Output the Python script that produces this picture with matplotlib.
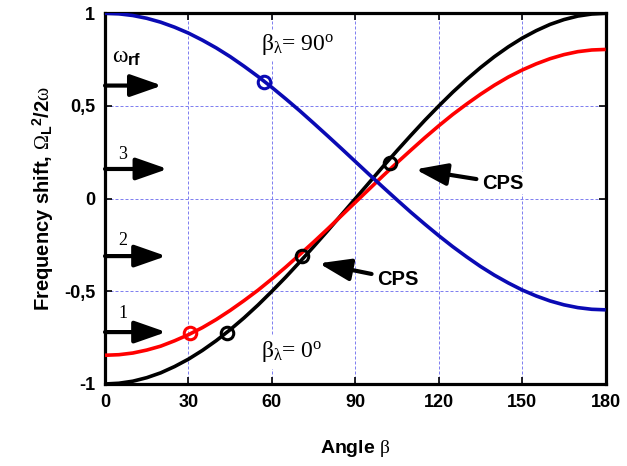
import matplotlib
matplotlib.use("Agg")
import matplotlib.pyplot as plt

# ---- data ----
beta = [0, 5, 10, 15, 20, 25, 30, 35, 40, 45, 50, 55, 60, 65, 70, 75, 80, 85, 90,
        95, 100, 105, 110, 115, 120, 125, 130, 135, 140, 145, 150, 155, 160, 165, 170, 175, 180]
black_vals = [-1.000, -0.996, -0.985, -0.966, -0.940, -0.906, -0.866, -0.819, -0.766, -0.707,
              -0.643, -0.574, -0.500, -0.423, -0.342, -0.259, -0.174, -0.087, 0.000,
              0.087, 0.174, 0.259, 0.342, 0.423, 0.500, 0.574, 0.643, 0.707, 0.766,
              0.819, 0.866, 0.906, 0.940, 0.966, 0.985, 0.996, 1.000]
red_vals = [-0.845, -0.842, -0.833, -0.817, -0.796, -0.767, -0.734, -0.696, -0.652, -0.603,
            -0.550, -0.494, -0.433, -0.369, -0.302, -0.234, -0.164, -0.092, -0.020,
            0.052, 0.124, 0.194, 0.262, 0.329, 0.393, 0.454, 0.510, 0.563, 0.612,
            0.656, 0.694, 0.727, 0.755, 0.777, 0.793, 0.802, 0.805]
blue_vals = [1.000, 0.997, 0.988, 0.973, 0.952, 0.925, 0.893, 0.855, 0.813, 0.766,
             0.714, 0.659, 0.600, 0.538, 0.474, 0.407, 0.339, 0.270, 0.200,
             0.130, 0.061, -0.007, -0.074, -0.138, -0.200, -0.259, -0.314, -0.366, -0.413,
             -0.455, -0.493, -0.525, -0.552, -0.573, -0.588, -0.597, -0.600]

# marked points
blue_pt = (57.0, 0.63)
red_pt = (30.5, -0.725)
black_pts_x = [44.0, 70.9, 102.5]
black_pts_y = [-0.725, -0.309, 0.194]

# level arrows (y positions) and labels
arrow_y = [0.61, 0.16, -0.31, -0.72]
arrow_tip = [20.5, 22.5, 22.0, 22.0]
level_labels = ["3", "2", "1"]
level_label_y = [0.213, -0.25, -0.645]

xticks = [0, 30, 60, 90, 120, 150, 180]
yticks = [-1, -0.5, 0, 0.5, 1]
ytick_labels = ["-1", "-0,5", "0", "0,5", "1"]

# ---- style ----
plt.rcParams['mathtext.fontset'] = 'custom'
plt.rcParams['mathtext.rm'] = 'Liberation Serif'
plt.rcParams['mathtext.it'] = 'Liberation Serif'
plt.rcParams['mathtext.bf'] = 'Liberation Sans:bold'
plt.rcParams['font.family'] = ['Liberation Sans', 'DejaVu Sans']

fig = plt.figure(figsize=(6.27, 4.66), dpi=100)
ax = fig.add_axes([0.1675, 0.176, 0.7985, 0.7955])

BLUE = '#0a0ab4'
RED = '#ff0000'
GRID = '#8080f0'

ax.plot(beta, black_vals, color='black', lw=2.6, zorder=3, solid_capstyle='butt')
ax.plot(beta, red_vals, color=RED, lw=2.6, zorder=3, solid_capstyle='butt')
ax.plot(beta, blue_vals, color=BLUE, lw=2.6, zorder=3, solid_capstyle='butt')

mk = dict(marker='o', ms=9, mfc='none', mew=2.2, ls='none', zorder=4)
ax.plot([blue_pt[0]], [blue_pt[1]], mec=BLUE, **mk)
ax.plot([red_pt[0]], [red_pt[1]], mec=RED, **mk)
ax.plot(black_pts_x, black_pts_y, mec='black', **mk)

ax.set_xlim(0, 180)
ax.set_ylim(-1, 1)
ax.set_xticks(xticks)
ax.set_yticks(yticks)
ax.set_yticklabels(ytick_labels)
for lab in ax.get_xticklabels() + ax.get_yticklabels():
    lab.set_fontweight('bold')
    lab.set_fontsize(13)
ax.tick_params(direction='in', top=True, right=True, length=5, width=1.2, pad=7)

ax.grid(True, color=GRID, linestyle=(0, (3, 2)), linewidth=0.72)
ax.set_axisbelow(True)
for s in ax.spines.values():
    s.set_linewidth(2.3)

ax.set_xlabel(r"Angle $\beta$", fontsize=14, fontweight='bold', labelpad=20)
ax.set_ylabel(r"Frequency shift, $\Omega_{\mathbf{L}}$$^{\mathbf{2}}$/2$\omega$",
              fontsize=14.5, fontweight='bold', labelpad=6)

# level arrows
for y, tip in zip(arrow_y, arrow_tip):
    ax.annotate('', xy=(tip, y), xytext=(0, y),
                arrowprops=dict(arrowstyle='-|>,head_length=1.2,head_width=0.42',
                                lw=3, color='black', mutation_scale=16,
                                shrinkA=0, shrinkB=0), zorder=5)

ax.text(2.4, 0.731, r"$\omega_{\mathbf{rf}}$", fontsize=17, va='baseline', ha='left', zorder=5)
for lab, y in zip(level_labels, level_label_y):
    ax.text(6.5, y, lab, fontsize=13, family='Liberation Serif', ha='center', va='baseline', zorder=5)

ax.text(56.2, 0.80, r"$\beta_\lambda$= 90$^{\mathrm{o}}$", fontsize=17, family='Liberation Serif',
        ha='left', va='baseline', zorder=5,
        bbox=dict(facecolor='white', edgecolor='none', pad=2))
ax.text(56.2, -0.856, r"$\beta_\lambda$= 0$^{\mathrm{o}}$", fontsize=17, family='Liberation Serif',
        ha='left', va='baseline', zorder=5,
        bbox=dict(facecolor='white', edgecolor='none', pad=3))

# CPS annotations
ax.annotate('CPS', xy=(111.6, 0.158), xytext=(135.5, 0.083),
            fontsize=14.5, fontweight='bold', ha='left', va='center', zorder=5,
            bbox=dict(facecolor='white', edgecolor='none', pad=1),
            arrowprops=dict(arrowstyle='-|>,head_length=1.2,head_width=0.42',
                            lw=3, color='black', mutation_scale=16,
                            shrinkA=3, shrinkB=0))
ax.annotate('CPS', xy=(76.9, -0.349), xytext=(97.8, -0.435),
            fontsize=14.5, fontweight='bold', ha='left', va='center', zorder=5,
            bbox=dict(facecolor='white', edgecolor='none', pad=1),
            arrowprops=dict(arrowstyle='-|>,head_length=1.2,head_width=0.42',
                            lw=3, color='black', mutation_scale=16,
                            shrinkA=3, shrinkB=0))

fig.savefig('out.png', dpi=100)
